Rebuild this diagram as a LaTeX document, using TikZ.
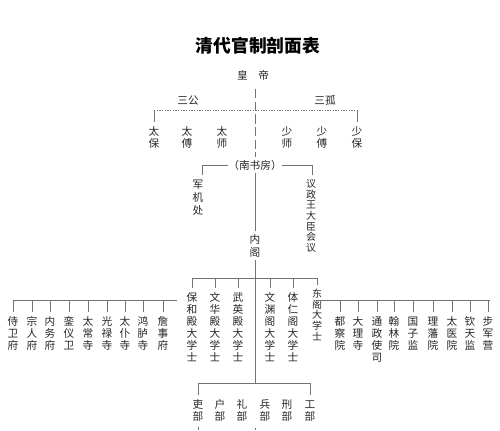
\documentclass[tikz,border=0pt]{standalone}
\usepackage{fontspec}
\newfontfamily\cjk{Noto Sans CJK SC}
\XeTeXuseglyphmetrics=0
\newcommand\noskip{\lineskiplimit=-30pt\relax\lineskip=0pt\relax}
\begin{document}
\begin{tikzpicture}[x=0.75pt,y=-0.75pt,
  txt/.style={text=black!85, inner sep=0, font=\cjk\fontsize{8}{9}\selectfont\noskip},
  vcol/.style={txt, anchor=north, align=center, yshift=2.25pt},
  tight/.style={font=\cjk\fontsize{7.5}{7.9}\selectfont\noskip},
  loose/.style={font=\cjk\fontsize{8}{9.8}\selectfont\noskip},
  ln/.style={draw=black!55, line width=0.5pt},
  dln/.style={ln, dash pattern=on 1pt off 1pt},
  lnk/.style={ln, shorten >=0.5pt},
]
\useasboundingbox (0,0) rectangle (500,430);
\fill[white] (0,0) rectangle (500,430);

% title and emperor
\node[font=\cjk\bfseries\fontsize{13.3}{14}\selectfont, inner sep=0, text=black] (title) at (258,45) {清代官制剖面表};
\node[txt] (emp) at (253,75) {皇　帝};
\node[txt] (sg) at (188,100) {三公};
\node[txt] (sgu) at (325,100) {三孤};

% three dukes / three solitaries
\node[vcol] (tb) at (154,126) {太\\保};
\node[vcol] (tf) at (187,126) {太\\傅};
\node[vcol] (ts) at (222,126) {太\\师};
\node[vcol] (ss) at (287,126) {少\\师};
\node[vcol] (sf) at (322,126) {少\\傅};
\node[vcol] (sb) at (357,126) {少\\保};
\coordinate (dl) at (154,110);
\coordinate (dr) at (357,110);
\draw[dln] (dl) -- (dr);
\draw[lnk] (dl) -- (tb.north);
\draw[lnk] (dr) -- (sb.north);

% spine
\coordinate (sp0) at (255,89);
\node[txt] (nsf) at (255,165) {（南书房）};
\draw[ln, dash pattern=on 7pt off 2.5pt] (sp0) -- (nsf.north);
\node[vcol, loose] (jjc) at (198,179) {军\\机\\处};
\node[vcol, tight] (yz) at (311,179) {议\\政\\王\\大\\臣\\会\\议};
\coordinate (nl) at (202,165);
\coordinate (nr) at (312,165);
\draw[ln] (nsf.west) -- (nl);
\draw[ln] (nsf.east) -- (nr);
\draw[lnk] (nl) -- (nl |- jjc.north);
\draw[lnk] (nr) -- (nr |- yz.north);

\node[vcol, loose] (ng) at (255,234) {内\\阁};
\draw[ln] (nsf.south) -- (ng.north);

% grand secretaries
\coordinate (gl) at (192,278);
\coordinate (gr) at (317,278);
\coordinate (gc) at (255,278);
\draw[ln] (gl) -- (gr);
\node[vcol] (g1) at (192,292) {保\\和\\殿\\大\\学\\士};
\node[vcol] (g2) at (215,292) {文\\华\\殿\\大\\学\\士};
\node[vcol] (g3) at (238,292) {武\\英\\殿\\大\\学\\士};
\node[vcol] (g4) at (270,292) {文\\渊\\阁\\大\\学\\士};
\node[vcol] (g5) at (293,292) {体\\仁\\阁\\大\\学\\士};
\node[vcol, tight] (g6) at (317,289) {东\\阁\\大\\学\\士};
\draw[lnk] (gl) -- (g1.north);
\draw[lnk] (g3.north |- gl) -- (g3.north);
\draw[lnk] (g5.north |- gl) -- (g5.north);
\draw[lnk] (gr) -- (g6.north);
\draw[ln, line width=0.35pt] ([yshift=8pt]g2.north) -- ([yshift=1pt]g2.north);
\draw[ln, line width=0.35pt] ([yshift=8pt]g4.north) -- ([yshift=1pt]g4.north);

% left group
\coordinate (ll) at (13,300);
\coordinate (lr) at (177,300);
\draw[ln] (ll) -- (lr);
\node[vcol] (l1) at (13,316) {侍\\卫\\府};
\node[vcol] (l2) at (32,316) {宗\\人\\府};
\node[vcol] (l3) at (50,316) {内\\务\\府};
\node[vcol] (l4) at (69,316) {銮\\仪\\卫};
\node[vcol] (l5) at (88,316) {太\\常\\寺};
\node[vcol] (l6) at (107,316) {光\\禄\\寺};
\node[vcol] (l7) at (125,316) {太\\仆\\寺};
\node[vcol] (l8) at (143,316) {鸿\\胪\\寺};
\node[vcol] (l9) at (163,316) {詹\\事\\府};
\foreach \n in {l1,l2,l3,l4,l5,l6,l7,l8,l9}
  \draw[lnk] (\n.north |- ll) -- (\n.north);

% right group
\coordinate (rl) at (317,300);
\coordinate (rr) at (490,300);
\draw[ln] (rl) -- (rr);
\node[vcol] (r1) at (340,316) {都\\察\\院};
\node[vcol] (r2) at (358,316) {大\\理\\寺};
\node[vcol] (r3) at (377,316) {通\\政\\使\\司};
\node[vcol] (r4) at (394,316) {翰\\林\\院};
\node[vcol] (r5) at (413,316) {国\\子\\监};
\node[vcol] (r6) at (433,316) {理\\藩\\院};
\node[vcol] (r7) at (452,316) {太\\医\\院};
\node[vcol] (r8) at (470,316) {钦\\天\\监};
\node[vcol] (r9) at (488,316) {步\\军\\营};
\foreach \n in {r1,r2,r3,r4,r5,r6,r7,r8,r9}
  \draw[lnk] (\n.north |- rl) -- (\n.north);

% six ministries
\coordinate (ml) at (198,383);
\coordinate (mr) at (310,383);
\coordinate (mc) at (255,383);
\draw[ln] (ng.south) -- (mc);
\draw[ln] (ml) -- (mr);
\node[vcol] (m1) at (198,399) {吏\\部};
\node[vcol] (m2) at (220,399) {户\\部};
\node[vcol] (m3) at (242,399) {礼\\部};
\node[vcol] (m4) at (265,399) {兵\\部};
\node[vcol] (m5) at (287,399) {刑\\部};
\node[vcol] (m6) at (310,399) {工\\部};
\draw[lnk] (ml) -- (m1.north);
\draw[lnk] (mr) -- (m6.north);
\coordinate (b1) at (198,430);
\coordinate (b2) at (255,430);
\draw[ln] ([yshift=-2pt]m1.south) -- (b1);
\draw[ln] ([yshift=-3pt]m3.south -| mc) -- (b2);
\end{tikzpicture}
\end{document}
